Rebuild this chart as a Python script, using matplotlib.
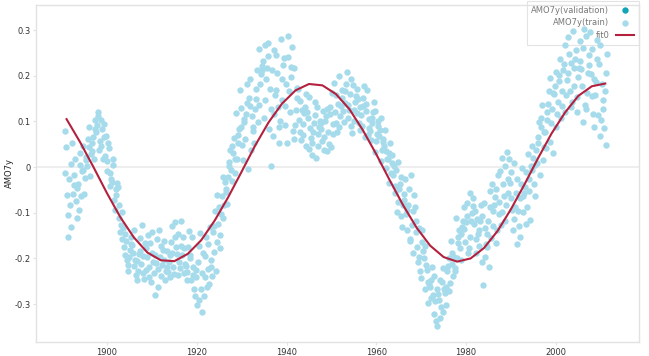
#!/usr/bin/env python3
"""AMO7y scatter (train/validation) with fitted oscillation curve."""

import matplotlib

matplotlib.use("Agg")
import matplotlib.pyplot as plt
import numpy as np

# AMO7y train samples, six per year (bi-monthly), grouped by decade
amo_1890s = [
    [0.078, -0.012, 0.043, -0.061, -0.104, -0.152],
    [-0.027, -0.083, -0.131, 0.006, 0.052, -0.058],
    [-0.018, -0.039, 0.017, -0.074, -0.046, -0.112],
    [-0.036, -0.094, 0.031, 0.004, -0.063, -0.008],
    [-0.007, 0.047, -0.058, -0.024, 0.022, 0.016],
    [0.003, 0.061, 0.043, 0.087, -0.019, 0.028],
    [0.036, 0.053, 0.067, 0.018, 0.103, 0.084],
    [0.076, 0.093, 0.112, 0.121, 0.038, 0.058],
    [0.104, 0.047, 0.083, 0.018, 0.066, 0.094],
]
amo_1900s = [
    [0.024, 0.068, -0.008, 0.013, 0.053, 0.042],
    [-0.041, -0.013, -0.027, -0.032, 0.004, 0.018],
    [-0.072, -0.093, -0.061, -0.049, -0.034, -0.043],
    [-0.111, -0.083, -0.142, -0.126, -0.158, -0.098],
    [-0.134, -0.176, -0.147, -0.193, -0.162, -0.204],
    [-0.214, -0.227, -0.196, -0.182, -0.153, -0.168],
    [-0.171, -0.187, -0.138, -0.217, -0.203, -0.236],
    [-0.247, -0.206, -0.228, -0.191, -0.183, -0.156],
    [-0.213, -0.127, -0.232, -0.194, -0.246, -0.167],
    [-0.226, -0.178, -0.197, -0.149, -0.241, -0.218],
]
amo_1910s = [
    [-0.166, -0.252, -0.143, -0.188, -0.207, -0.231],
    [-0.281, -0.192, -0.211, -0.158, -0.263, -0.224],
    [-0.137, -0.196, -0.172, -0.238, -0.214, -0.181],
    [-0.203, -0.162, -0.248, -0.227, -0.219, -0.184],
    [-0.229, -0.208, -0.193, -0.241, -0.163, -0.128],
    [-0.187, -0.218, -0.233, -0.152, -0.121, -0.174],
    [-0.191, -0.146, -0.236, -0.208, -0.221, -0.173],
    [-0.118, -0.192, -0.153, -0.231, -0.177, -0.212],
    [-0.216, -0.247, -0.229, -0.174, -0.141, -0.198],
    [-0.193, -0.248, -0.152, -0.218, -0.237, -0.266],
]
amo_1920s = [
    [-0.283, -0.226, -0.241, -0.302, -0.208, -0.173],
    [-0.291, -0.144, -0.267, -0.232, -0.318, -0.188],
    [-0.282, -0.194, -0.241, -0.153, -0.262, -0.223],
    [-0.168, -0.257, -0.131, -0.219, -0.203, -0.238],
    [-0.142, -0.128, -0.186, -0.097, -0.227, -0.163],
    [-0.062, -0.124, -0.088, -0.178, -0.149, -0.103],
    [-0.064, -0.021, -0.112, -0.083, -0.032, -0.047],
    [-0.054, -0.081, -0.022, 0.002, 0.011, 0.038],
    [-0.007, -0.031, 0.047, 0.031, 0.063, 0.018],
    [-0.012, 0.118, 0.017, 0.052, 0.071, 0.084],
]
amo_1930s = [
    [0.168, 0.087, 0.129, 0.048, 0.016, 0.106],
    [0.098, 0.062, 0.117, 0.141, 0.183, -0.004],
    [0.152, 0.133, 0.192, 0.037, 0.111, 0.078],
    [0.088, 0.052, 0.128, 0.149, 0.171, 0.213],
    [0.098, 0.258, 0.137, 0.183, 0.203, 0.221],
    [0.212, 0.232, 0.107, 0.268, 0.148, 0.192],
    [0.218, 0.243, 0.272, 0.083, 0.171, 0.128],
    [0.003, 0.212, 0.068, 0.257, 0.117, 0.158],
    [0.246, 0.168, 0.207, 0.131, 0.087, 0.052],
    [0.101, 0.281, 0.148, 0.193, 0.223, 0.238],
]
amo_1940s = [
    [0.134, 0.092, 0.183, 0.053, 0.242, 0.287],
    [0.166, 0.121, 0.197, 0.219, 0.262, 0.078],
    [0.061, 0.217, 0.093, 0.124, 0.151, 0.173],
    [0.172, 0.103, 0.144, 0.077, 0.059, 0.126],
    [0.094, 0.071, 0.118, 0.132, 0.161, 0.046],
    [0.121, 0.107, 0.153, 0.039, 0.085, 0.063],
    [0.052, 0.027, 0.076, 0.096, 0.113, 0.142],
    [0.019, 0.131, 0.047, 0.072, 0.087, 0.101],
    [0.084, 0.097, 0.057, 0.123, 0.038, 0.067],
    [0.102, 0.112, 0.128, 0.036, 0.077, 0.051],
]
amo_1950s = [
    [0.117, 0.131, 0.043, 0.163, 0.072, 0.094],
    [0.184, 0.121, 0.157, 0.097, 0.076, 0.139],
    [0.087, 0.199, 0.112, 0.133, 0.152, 0.168],
    [0.123, 0.098, 0.141, 0.166, 0.182, 0.208],
    [0.137, 0.107, 0.124, 0.161, 0.193, 0.089],
    [0.074, 0.179, 0.101, 0.126, 0.143, 0.155],
    [0.172, 0.118, 0.149, 0.097, 0.082, 0.132],
    [0.113, 0.091, 0.134, 0.151, 0.177, 0.066],
    [0.138, 0.123, 0.168, 0.071, 0.105, 0.086],
    [0.078, 0.059, 0.097, 0.108, 0.121, 0.143],
]
amo_1960s = [
    [0.034, 0.122, 0.058, 0.073, 0.089, 0.101],
    [0.068, 0.081, 0.013, 0.107, 0.038, 0.054],
    [0.062, 0.047, 0.082, -0.003, 0.036, 0.017],
    [0.018, 0.031, -0.034, 0.053, -0.012, 0.009],
    [0.027, -0.018, 0.003, -0.041, -0.057, -0.007],
    [-0.098, 0.012, -0.077, -0.048, -0.036, -0.021],
    [-0.106, -0.131, -0.084, -0.071, -0.058, -0.027],
    [-0.103, -0.138, -0.094, -0.082, -0.048, -0.161],
    [-0.157, -0.018, -0.126, -0.097, -0.188, -0.061],
    [-0.088, -0.143, -0.117, -0.176, -0.207, -0.134],
]
amo_1970s = [
    [-0.196, -0.227, -0.243, -0.164, -0.138, -0.183],
    [-0.198, -0.268, -0.172, -0.214, -0.226, -0.252],
    [-0.298, -0.256, -0.263, -0.287, -0.247, -0.218],
    [-0.281, -0.238, -0.322, -0.294, -0.338, -0.267],
    [-0.347, -0.277, -0.291, -0.248, -0.331, -0.306],
    [-0.252, -0.317, -0.221, -0.268, -0.276, -0.303],
    [-0.262, -0.228, -0.216, -0.198, -0.272, -0.253],
    [-0.161, -0.212, -0.187, -0.238, -0.197, -0.227],
    [-0.221, -0.112, -0.198, -0.167, -0.152, -0.138],
    [-0.177, -0.203, -0.146, -0.131, -0.118, -0.087],
]
amo_1980s = [
    [-0.136, -0.164, -0.121, -0.108, -0.078, -0.188],
    [-0.178, -0.057, -0.152, -0.117, -0.101, -0.086],
    [-0.068, -0.124, -0.097, -0.158, -0.187, -0.113],
    [-0.147, -0.173, -0.137, -0.118, -0.084, -0.208],
    [-0.107, -0.258, -0.078, -0.197, -0.133, -0.168],
    [-0.146, -0.174, -0.118, -0.218, -0.088, -0.053],
    [-0.156, -0.038, -0.128, -0.097, -0.084, -0.066],
    [-0.167, -0.048, -0.138, -0.017, -0.103, -0.076],
    [-0.008, -0.127, 0.021, -0.098, -0.037, -0.064],
    [-0.118, 0.002, -0.083, 0.032, -0.057, -0.026],
]
amo_1990s = [
    [0.018, -0.034, -0.011, -0.068, -0.093, -0.138],
    [-0.114, 0.008, -0.088, -0.056, -0.168, -0.027],
    [-0.097, -0.128, -0.067, -0.153, -0.036, -0.002],
    [-0.063, -0.098, -0.057, -0.043, -0.011, -0.124],
    [-0.087, 0.028, -0.053, -0.027, -0.116, 0.002],
    [0.047, -0.006, 0.021, -0.038, -0.064, 0.004],
    [0.037, 0.008, 0.053, 0.066, 0.098, -0.017],
    [0.108, 0.088, 0.136, 0.016, 0.077, 0.043],
    [0.076, 0.042, 0.104, 0.121, 0.138, 0.167],
    [0.056, 0.196, 0.097, 0.127, 0.031, 0.162],
]
amo_2000s = [
    [0.161, 0.177, 0.088, 0.208, 0.116, 0.143],
    [0.202, 0.188, 0.237, 0.107, 0.166, 0.134],
    [0.213, 0.226, 0.121, 0.268, 0.157, 0.191],
    [0.284, 0.207, 0.248, 0.166, 0.132, 0.228],
    [0.143, 0.298, 0.178, 0.216, 0.236, 0.257],
    [0.154, 0.121, 0.198, 0.218, 0.233, 0.277],
    [0.214, 0.177, 0.098, 0.261, 0.302, 0.136],
    [0.128, 0.288, 0.163, 0.207, 0.224, 0.246],
    [0.296, 0.203, 0.258, 0.156, 0.117, 0.087],
    [0.194, 0.158, 0.186, 0.237, 0.278, 0.114],
]
amo_2010s = [
    [0.226, 0.068, 0.267, 0.104, 0.183, 0.146],
    [0.127, 0.086, 0.166, 0.048, 0.207, 0.248],
]
first_year = 1891

# validation samples (none visible in the chart)
valid_years = []
valid_values = []

# fitted curve
fit_years = [1891, 1894, 1897, 1900, 1903, 1906, 1909, 1912, 1915, 1918,
             1921, 1924, 1927, 1930, 1933, 1936, 1939, 1942, 1945, 1948,
             1951, 1954, 1957, 1960, 1963, 1966, 1969, 1972, 1975, 1978,
             1981, 1984, 1987, 1990, 1993, 1996, 1999, 2002, 2005, 2008, 2011]
fit_values = [0.105, 0.055, 0.000, -0.057, -0.110, -0.154, -0.187, -0.204,
              -0.206, -0.190, -0.160, -0.117, -0.066, -0.010, 0.047, 0.098,
              0.139, 0.168, 0.182, 0.179, 0.160, 0.127, 0.081, 0.028, -0.029,
              -0.084, -0.133, -0.172, -0.197, -0.207, -0.200, -0.177, -0.140,
              -0.092, -0.038, 0.019, 0.073, 0.119, 0.156, 0.177, 0.183]

x_ticks = [1900, 1920, 1940, 1960, 1980, 2000]
y_ticks = [-0.3, -0.2, -0.1, 0, 0.1, 0.2, 0.3]
y_labels = ["-0.3", "-0.2", "-0.1", "0", "0.1", "0.2", "0.3"]

TRAIN_COLOR = "#a6dbeb"
VALID_COLOR = "#12a4b6"
FIT_COLOR = "#b3213f"
SPINE_COLOR = "#e2e2e2"

train_values = np.concatenate([
    amo_1890s, amo_1900s, amo_1910s, amo_1920s, amo_1930s, amo_1940s,
    amo_1950s, amo_1960s, amo_1970s, amo_1980s, amo_1990s, amo_2000s,
    amo_2010s,
])
years = first_year + np.arange(train_values.shape[0])
train_times = years[:, None] + (np.arange(6) / 6.0 - 0.4)[None, :]

fig = plt.figure(figsize=(6.49, 3.56), dpi=100)
ax = fig.add_axes([0.0555, 0.0393, 0.929, 0.9467])

ax.axhline(0, color="#ebebeb", lw=1.2, zorder=0)

ax.scatter(valid_years, valid_values, s=21, color=VALID_COLOR,
           linewidths=0, label="AMO7y(validation)", zorder=3)
ax.scatter(train_times.ravel(), train_values.ravel(), s=21, color=TRAIN_COLOR,
           linewidths=0, label="AMO7y(train)", zorder=3)
ax.plot(fit_years, fit_values, color=FIT_COLOR, lw=1.5, label="fit0", zorder=4)

ax.set_xlim(1884.2, 2018.5)
ax.set_ylim(-0.383, 0.355)
ax.set_xticks(x_ticks)
ax.set_xticklabels([str(y) for y in x_ticks])
ax.set_yticks(y_ticks)
ax.set_yticklabels(y_labels)
ax.tick_params(axis="both", labelsize=6, colors="#333333", length=2.5,
               width=0.8, color=SPINE_COLOR, pad=1.5)
ax.set_ylabel("AMO7y", fontsize=6, color="#222222")
ax.yaxis.set_label_coords(-0.036, 0.5)

for side in ["left", "bottom", "right", "top"]:
    ax.spines[side].set_color(SPINE_COLOR)
    ax.spines[side].set_linewidth(1.0)

leg = ax.legend(loc="upper right", bbox_to_anchor=(1.0, 1.012),
                markerfirst=False, frameon=True, fontsize=6,
                borderaxespad=0, handlelength=2.2, labelspacing=0.45,
                fancybox=False, borderpad=0.55)
leg.get_frame().set_edgecolor("#dddddd")
leg.get_frame().set_linewidth(0.8)
for text in leg.get_texts():
    text.set_color("#777777")
leg.set_zorder(1)

fig.savefig("out.png", dpi=100)
plt.close(fig)
